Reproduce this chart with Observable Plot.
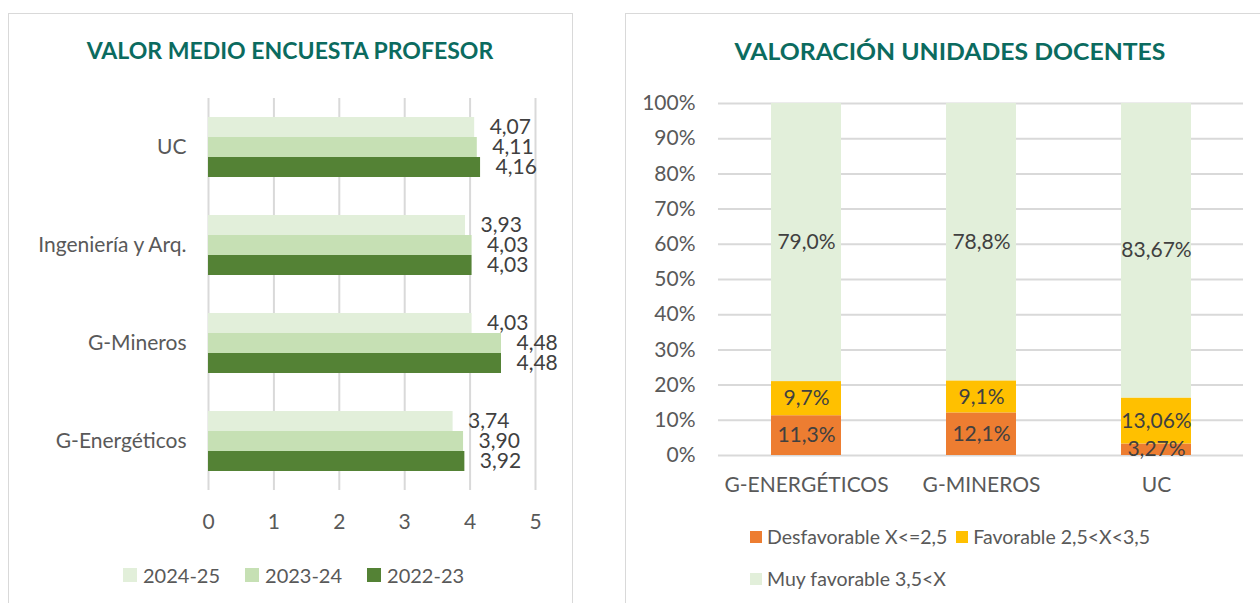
<!DOCTYPE html>
<html><head><meta charset="utf-8">
<script src="https://cdn.jsdelivr.net/npm/d3@7"></script>
<script src="https://cdn.jsdelivr.net/npm/@observablehq/plot@0.6"></script>
<style>
body{margin:0;background:#fff;font-family:Lato,"Open Sans",sans-serif;}
#root{position:relative;width:1260px;height:603px;overflow:hidden;background:#fff;}
.panel{position:absolute;border:1.5px solid #d9d9d9;box-sizing:border-box;}
.title{position:absolute;font-weight:700;color:#0b6b5f;font-size:23.5px;line-height:normal;white-space:nowrap;transform-origin:center;}
.plot{position:absolute;left:0;top:0;}
.legend{position:absolute;display:flex;flex-wrap:wrap;color:#595959;font-size:20px;line-height:24px;}
.item{display:flex;align-items:center;}
.sw{display:inline-block;}
</style></head><body><div id="root">
<div class="panel" style="left:8px;top:13px;width:565px;height:640px;"></div>
<div class="panel" style="left:625px;top:13px;width:680px;height:640px;"></div>
<div class="title" id="t1" style="left:290px;top:36px;transform:translateX(-50%) scaleX(0.98);">VALOR MEDIO ENCUESTA PROFESOR</div>
<div class="title" id="t2" style="left:950px;top:37px;transform:translateX(-50%) scaleX(1.054);">VALORACIÓN UNIDADES DOCENTES</div>
<div id="leftPlot" class="plot"></div>
<div id="rightPlot" class="plot" style="left:625px;"></div>
<div id="leftLegend" class="legend" style="left:123px;top:563px;column-gap:25px;"></div>
<div id="rightLegend" class="legend" style="left:750px;top:525px;width:440px;column-gap:9px;row-gap:18px;font-size:19.5px;"></div>
</div>
<script>
// ---- Left chart data ----
const leftCategories = ["UC", "Ingeniería y Arq.", "G-Mineros", "G-Energéticos"];
const years = ["2024-25", "2023-24", "2022-23"];
const yearColors = ["#E2EFDA", "#C6E0B4", "#548235"];
const values2024_25 = [4.07, 3.93, 4.03, 3.74];
const values2023_24 = [4.11, 4.03, 4.48, 3.90];
const values2022_23 = [4.16, 4.03, 4.48, 3.92];
const xTicks = [0, 1, 2, 3, 4, 5];

// ---- Right chart data ----
const rightCategories = ["G-ENERGÉTICOS", "G-MINEROS", "UC"];
const series = ["Desfavorable X<=2,5", "Favorable 2,5<X<3,5", "Muy favorable 3,5<X"];
const seriesColors = ["#ED7D31", "#FFC000", "#E2EFDA"];
const desfavorable = [11.3, 12.1, 3.27];
const favorable = [9.7, 9.1, 13.06];
const muyFavorable = [79.0, 78.8, 83.67];
const labelDecimals = [1, 1, 2];
const yTicks = [0, 10, 20, 30, 40, 50, 60, 70, 80, 90, 100];

const fmtComma = (v, d) => v.toFixed(d).replace(".", ",");
const baseStyle = {fontFamily: "Lato, 'Open Sans', sans-serif", fontSize: "21px", color: "#595959", background: "transparent", overflow: "visible"};

const leftSeries = [values2024_25, values2023_24, values2022_23];
const leftData = [];
leftCategories.forEach((c, i) => {
  leftSeries.forEach((arr, j) => leftData.push({cat: c, year: years[j], value: arr[i]}));
});

const left = Plot.plot({
  width: 600, height: 545,
  marginLeft: 208, marginRight: 65, marginTop: 97, marginBottom: 55,
  style: baseStyle,
  x: {domain: [0, 5]},
  y: {domain: years, padding: 0, insetTop: 19, insetBottom: 19, axis: null},
  fy: {domain: leftCategories, padding: 0},
  color: {domain: years, range: yearColors},
  marks: [
    Plot.gridX(xTicks, {stroke: "#d9d9d9", strokeOpacity: 1, strokeWidth: 2}),
    Plot.barX(leftData, {x: "value", y: "year", fy: "cat", fill: "year"}),
    Plot.text(leftData, {x: "value", y: "year", fy: "cat", text: d => fmtComma(d.value, 2), textAnchor: "start", dx: 15, fill: "#404040", fontSize: 21}),
    Plot.axisX(xTicks, {anchor: "bottom", tickSize: 0, tickPadding: 24, fontSize: 21, label: null}),
    Plot.axisFy({anchor: "left", tickSize: 0, tickPadding: 22, fontSize: 21, label: null, style: {letterSpacing: "0.5px"}})
  ]
});
document.getElementById("leftPlot").appendChild(left);

const rightSeries = [desfavorable, favorable, muyFavorable];
const rightData = [];
rightCategories.forEach((c, i) => {
  rightSeries.forEach((arr, j) => rightData.push({cat: c, serie: series[j], value: arr[i], dec: labelDecimals[i]}));
});

const right = Plot.plot({
  width: 635, height: 510,
  marginLeft: 93, marginRight: 17, marginTop: 103, marginBottom: 55,
  style: baseStyle,
  x: {domain: rightCategories, paddingInner: 0.6, paddingOuter: 0.3},
  y: {domain: [0, 100]},
  color: {domain: series, range: seriesColors},
  marks: [
    Plot.gridY(yTicks, {stroke: "#d9d9d9", strokeOpacity: 1, strokeWidth: 2}),
    Plot.barY(rightData, {x: "cat", y: "value", fill: "serie"}),
    Plot.text(rightData, Plot.stackY({x: "cat", y: "value", text: d => fmtComma(d.value, d.dec) + "%", fill: "#404040", fontSize: 21})),
    Plot.axisX({anchor: "bottom", tickSize: 0, tickPadding: 22, fontSize: 21, label: null}),
    Plot.axisY(yTicks, {anchor: "left", tickSize: 0, tickPadding: 23, fontSize: 21, label: null, tickFormat: d => d + "%"})
  ]
});
document.getElementById("rightPlot").appendChild(right);

function legend(el, names, colors, size, gap) {
  names.forEach((n, i) => {
    const it = document.createElement("div");
    it.className = "item";
    const sw = document.createElement("span");
    sw.className = "sw";
    sw.style.cssText = `width:${size}px;height:${size}px;background:${colors[i]};margin-right:${gap}px;`;
    const tx = document.createElement("span");
    tx.textContent = n;
    it.appendChild(sw); it.appendChild(tx);
    el.appendChild(it);
  });
}
legend(document.getElementById("leftLegend"), years, yearColors, 14, 6);
legend(document.getElementById("rightLegend"), series, seriesColors, 12, 5);
</script>
</body></html>
